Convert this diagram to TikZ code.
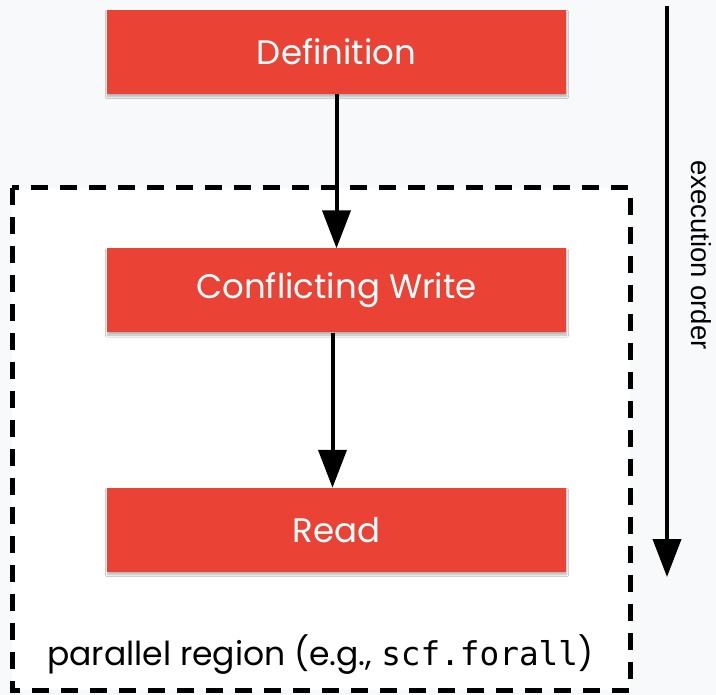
\documentclass[tikz,border=0pt]{standalone}
\usepackage{fontspec}
\setmainfont{Poppins}
\setsansfont{Liberation Sans}
\setmonofont{DejaVu Sans Mono}
\usetikzlibrary{arrows.meta,shadows.blur}
\definecolor{bgc}{HTML}{F8F9FA}
\definecolor{stepred}{HTML}{EA4335}
\tikzset{
  stepbox/.style={fill=stepred, draw=none, minimum width=459pt, minimum height=84pt,
    text=white, font=\fontsize{34}{40}\selectfont,
    blur shadow={shadow xshift=0.5pt, shadow yshift=-2.5pt, shadow blur steps=6, shadow opacity=30}},
  flow/.style={line width=4pt, -{Triangle[width=28pt,length=38pt]}},
  region/.style={draw=black, fill=white, line width=5pt, dash pattern=on 17pt off 12pt}
}
\begin{document}
\begin{tikzpicture}[x=1pt,y=-1pt]
  \fill[bgc] (0,0) rectangle (716,695);
  \useasboundingbox (0,0) rectangle (716,695);
  % parallel region
  \draw[region] (12,188) rectangle (630,690);
  \node[anchor=west, inner sep=0pt, font=\fontsize{33}{36}\selectfont] (lbl) at (47,655)
    {parallel region (e.g., \texttt{\fontsize{32.7}{36}\selectfont scf.forall})};
  % steps
  \node[stepbox] (def) at (336.5,52) {Definition};
  \node[stepbox] (cw) at (336.5,290.5) {Conflicting Write};
  \node[stepbox] (rd) at (336.5,530) {Read};
  \draw[flow] (def.south) -- (cw.north);
  \draw[flow] ([xshift=-4pt]cw.south) -- ([xshift=-4pt]rd.north);
  % execution order
  \coordinate (eoA) at (667,6);
  \coordinate (eoB) at (667,577);
  \draw[flow] (eoA) -- (eoB);
  \node[rotate=-90, font=\sffamily\fontsize{27.5}{30}\selectfont, inner sep=0pt] (eo) at (701,255) {execution order};
\end{tikzpicture}
\end{document}
